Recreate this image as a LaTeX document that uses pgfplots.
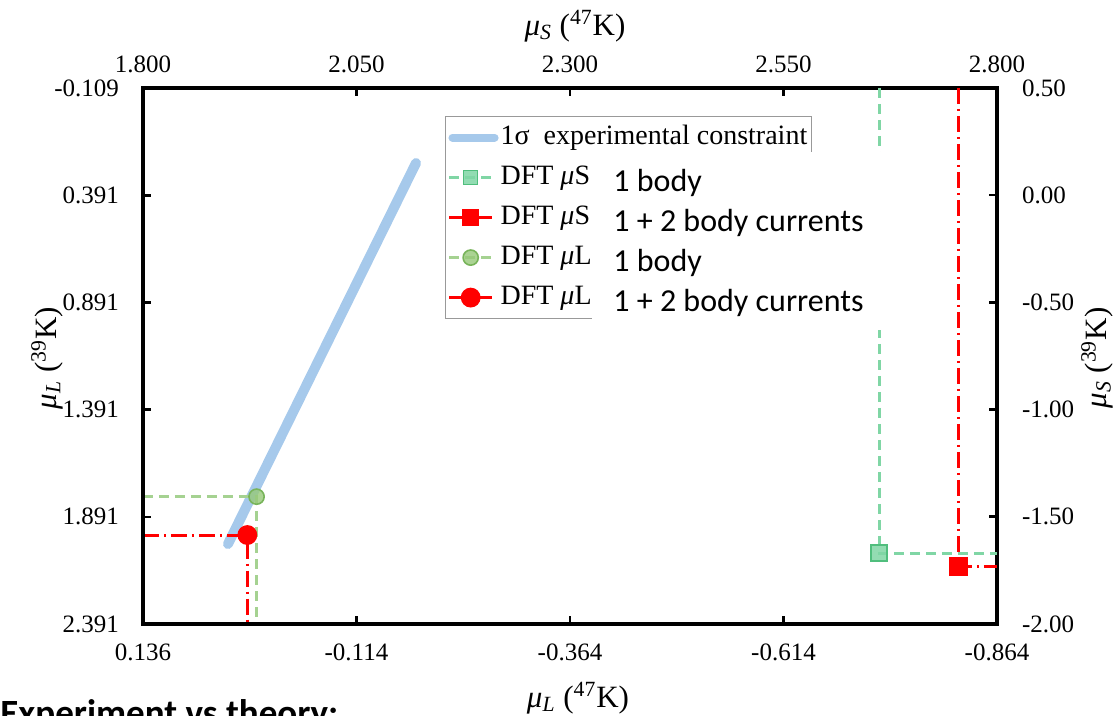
\documentclass[border=0pt]{standalone}
\usepackage{pgfplots}
\pgfplotsset{compat=1.18}
\usepackage{fontspec}
\setmainfont{Liberation Serif}
\newfontfamily\calibri{Carlito}

\definecolor{cblue}{RGB}{166,201,235}
\definecolor{sgreen}{RGB}{128,214,165}
\definecolor{sgreenD}{RGB}{80,190,125}
\definecolor{lgreen}{RGB}{150,200,120}
\definecolor{lgreenD}{RGB}{120,180,90}
\definecolor{lgreenL}{RGB}{165,210,145}

\pgfplotsset{
  common/.style={width=427pt,height=268pt,scale only axis,
    axis line style={line width=1.8pt},
    tick style={black,line width=1.3pt}, major tick length=4pt, tick align=inside,
    tick label style={font=\fontsize{12.5}{14}\selectfont},
    /pgf/number format/assume math mode=true, clip=true},
  greendash/.style={dash pattern=on 5pt off 3pt},
  reddash/.style={dash pattern=on 8pt off 2.5pt on 1pt off 2.5pt},
  widelegend/.style={legend image code/.code={\draw[mark repeat=2,mark phase=2,##1] plot coordinates {(0cm,0cm) (0.38cm,0cm) (0.76cm,0cm)};}},
  bluelegend/.style={legend image code/.code={\draw[##1, line width=4pt] (0.06cm,0cm) -- (0.8cm,0cm);}},
}

\begin{document}
\begin{tikzpicture}
\useasboundingbox (-71.5pt,-46pt) rectangle (487.5pt,312pt);
\begin{axis}[common,
  x dir=reverse, y dir=reverse,
  xmin=-0.864,xmax=0.136, ymin=-0.109,ymax=2.391,
  xtick={0.136,-0.114,-0.364,-0.614,-0.864},
  xticklabels={0.136,-0.114,-0.364,-0.614,-0.864},
  ytick={-0.109,0.391,0.891,1.391,1.891,2.391},
  yticklabels={-0.109,0.391,0.891,1.391,1.891,2.391},
  xtick pos=bottom, ytick pos=left,
  xticklabel pos=bottom, yticklabel pos=left,
  xticklabel style={yshift=-6.5pt},
  yticklabel style={xshift=-8.5pt},
  legend style={at={(axis description cs:0.3536,0.9478)}, anchor=north west,
    draw=gray!80, line width=0.6pt, fill=white,
    font=\fontsize{14}{16}\selectfont,
    inner xsep=1pt, inner ysep=3pt, row sep=5pt,
    nodes={inner sep=1pt, text height=10pt, text depth=3pt}},
  legend cell align=left,
  widelegend,
]
\addplot[cblue, line width=5pt, line cap=round, bluelegend]
  coordinates {(0.0365,2.018) (-0.1837,0.241)};
\addlegendentry{1σ\ \ experimental constraint}
\addlegendimage{sgreen, line width=1.5pt, greendash, mark=square*, mark size=3.5pt,
  mark options={solid, fill=sgreen, draw=sgreenD, line width=0.8pt, fill opacity=0.85}}
\addlegendentry{DFT \textit{μ}S}
\addlegendimage{red, line width=1.5pt, reddash, mark=square*, mark size=3.5pt,
  mark options={solid, fill=red, draw=red}}
\addlegendentry{DFT \textit{μ}S}
\addplot[lgreenL, line width=1.5pt, greendash, mark=*, mark indices={2}, mark size=3.8pt,
  mark options={solid, fill=lgreen, draw=lgreenD, line width=0.8pt, fill opacity=0.8}]
  coordinates {(0.136,1.797) (0.003,1.797) (0.003,2.391)};
\addlegendentry{DFT \textit{μ}L}
\addplot[red, line width=1.5pt, reddash, mark=*, mark indices={2}, mark size=4.2pt,
  mark options={solid, fill=red, draw=red}]
  coordinates {(0.136,1.976) (0.0138,1.976) (0.0138,2.391)};
\addlegendentry{DFT \textit{μ}L}
\end{axis}

\begin{axis}[common,
  xmin=1.8,xmax=2.8, ymin=-2,ymax=0.5,
  xtick={1.8,2.05,2.3,2.55,2.8},
  xticklabels={1.800,2.050,2.300,2.550,2.800},
  ytick={0.5,0,-0.5,-1,-1.5,-2},
  yticklabels={0.50,0.00,-0.50,-1.00,-1.50,-2.00},
  xtick pos=top, ytick pos=right,
  xticklabel pos=top, yticklabel pos=right,
  xticklabel style={yshift=4pt},
  yticklabel style={xshift=9pt},
]
\addplot[sgreen, line width=1.5pt, greendash, mark=square*, mark indices={2}, mark size=4pt,
  mark options={solid, fill=sgreen, draw=sgreenD, line width=0.8pt, fill opacity=0.85}]
  coordinates {(2.662,0.5) (2.662,-1.670) (2.8,-1.670)};
\addplot[red, line width=1.5pt, reddash, mark=square*, mark indices={2}, mark size=4pt,
  mark options={solid, fill=red, draw=red}]
  coordinates {(2.755,0.5) (2.755,-1.733) (2.8,-1.733)};
\end{axis}

% white text box covering part of the legend, as in the reference
\fill[white] (224.5pt,147pt) rectangle (370.5pt,236pt);
\begin{scope}[every node/.style={anchor=base west, inner sep=0, font=\calibri\fontsize{16}{19}\selectfont}]
\node at (235pt,216.2pt) {1 body};
\node at (235pt,196.2pt) {1 + 2 body currents};
\node at (235pt,176.2pt) {1 body};
\node at (235pt,156.2pt) {1 + 2 body currents};
\end{scope}

% axis titles
\node[font=\fontsize{15.5}{18}\selectfont] at (216pt,299pt) {\textit{μ}\textsubscript{\textit{S}} (\textsuperscript{47}K)};
\node[font=\fontsize{15.5}{18}\selectfont] at (217.5pt,-37pt) {\textit{μ}\textsubscript{\textit{L}} (\textsuperscript{47}K)};
\node[font=\fontsize{15.5}{18}\selectfont, rotate=90] at (-48pt,133pt) {\textit{μ}\textsubscript{\textit{L}} (\textsuperscript{39}K)};
\node[font=\fontsize{15.5}{18}\selectfont, rotate=90] at (477pt,133pt) {\textit{μ}\textsubscript{\textit{S}} (\textsuperscript{39}K)};

\node[anchor=base west, inner sep=0, font=\calibri\bfseries\fontsize{18.5}{22}\selectfont] at (-71.5pt,-51pt) {Experiment vs theory:};
\end{tikzpicture}
\end{document}
